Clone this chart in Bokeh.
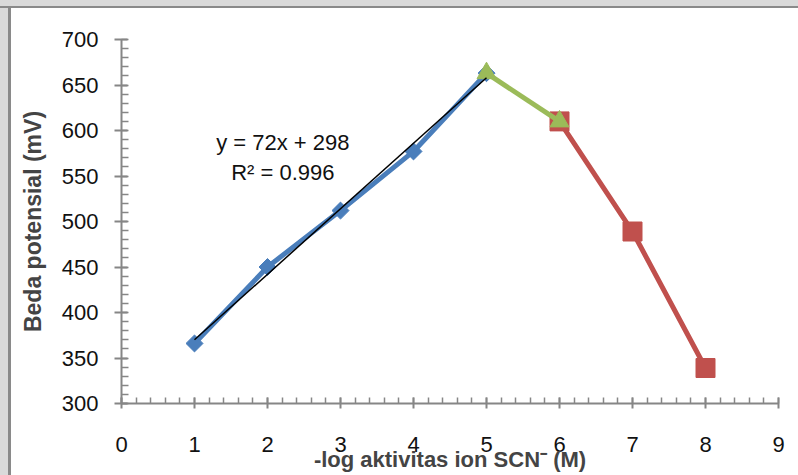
from bokeh.plotting import figure
from bokeh.models import SingleIntervalTicker, Label, Range1d
from bokeh.embed import file_html
from bokeh.resources import INLINE
import math

# ---- data ----
x_blue = [1, 2, 3, 4, 5]
y_blue = [366, 450, 512, 577, 663]
x_green = [5, 6]
y_green = [663, 610]
x_red = [6, 7, 8]
y_red = [610, 489, 339]
trend_slope = 72
trend_intercept = 298
trend_x = [1, 5]
trend_y = [trend_slope * v + trend_intercept for v in trend_x]
eq_text = "y = 72x + 298"
r2_text = "R² = 0.996"
x_title = "-log aktivitas ion SCN⁻ (M)"
y_title = "Beda potensial (mV)"

BLUE = "#4A7EBB"
RED = "#C0504D"
GREEN = "#9BBB59"
AX = "#868686"
FONT = "Liberation Sans"

frame_bg = ("linear-gradient(to bottom, #dadada 0px, #dadada 6px, #8a8a8a 6px, #8a8a8a 8px, "
            "rgba(255,255,255,0) 8px), "
            "linear-gradient(to right, #dadada 0px, #dadada 8px, #8a8a8a 8px, #8a8a8a 11px, "
            "#ffffff 11px)")

p = figure(width=798, height=475, x_range=Range1d(0, 9), y_range=Range1d(300, 700),
           output_backend="svg", toolbar_location=None,
           min_border_left=121, min_border_right=20, min_border_top=39, min_border_bottom=72,
           styles={"background": frame_bg})
p.xgrid.visible = False
p.ygrid.visible = False
p.outline_line_color = None
p.background_fill_color = "white"
p.border_fill_color = None

p.xaxis.ticker = SingleIntervalTicker(interval=1, num_minor_ticks=5)
p.yaxis.ticker = SingleIntervalTicker(interval=50, num_minor_ticks=5)

for ax in (p.xaxis[0], p.yaxis[0]):
    ax.axis_line_color = AX
    ax.axis_line_width = 2
    ax.major_tick_line_color = AX
    ax.major_tick_line_width = 2
    ax.minor_tick_line_color = AX
    ax.minor_tick_line_width = 1.5
    ax.major_label_text_font = FONT
    ax.major_label_text_font_size = "22px"
    ax.major_label_text_color = "#111111"

p.xaxis.major_tick_in = 6
p.xaxis.major_tick_out = 5
p.xaxis.minor_tick_in = 6
p.xaxis.minor_tick_out = 0
p.xaxis.major_label_standoff = 28

p.yaxis.major_tick_in = 6
p.yaxis.major_tick_out = 7
p.yaxis.minor_tick_in = 7
p.yaxis.minor_tick_out = 0
p.yaxis.major_label_standoff = 16

p.yaxis.axis_label = y_title
p.yaxis.axis_label_text_font = FONT
p.yaxis.axis_label_text_font_style = "bold"
p.yaxis.axis_label_text_font_size = "23px"
p.yaxis.axis_label_standoff = 13

p.xaxis.axis_label = x_title
p.xaxis.axis_label_text_font = FONT
p.xaxis.axis_label_text_font_style = "bold"
p.xaxis.axis_label_text_font_size = "22px"
p.xaxis.axis_label_standoff = -8

# series
p.line(x_blue, y_blue, line_color=BLUE, line_width=5)
p.scatter(x_blue, y_blue, marker="square", angle=math.pi / 4, size=12,
          fill_color=BLUE, line_color=BLUE)
p.line(x_red, y_red, line_color=RED, line_width=5)
p.scatter(x_red, y_red, marker="square", size=19, fill_color=RED, line_color=RED)
p.line(x_green, y_green, line_color=GREEN, line_width=5)
p.scatter(x_green, y_green, marker="triangle", size=19, fill_color=GREEN, line_color=GREEN)
p.line(trend_x, trend_y, line_color="black", line_width=1.5)

p.add_layout(Label(x=2.21, y=587, text=eq_text, text_align="center", text_baseline="alphabetic",
                   text_font=FONT, text_font_size="22px", text_color="#111111"))
p.add_layout(Label(x=2.21, y=554, text=r2_text, text_align="center", text_baseline="alphabetic",
                   text_font=FONT, text_font_size="22px", text_color="#111111"))

open("out.html", "w").write(file_html(p, INLINE))
